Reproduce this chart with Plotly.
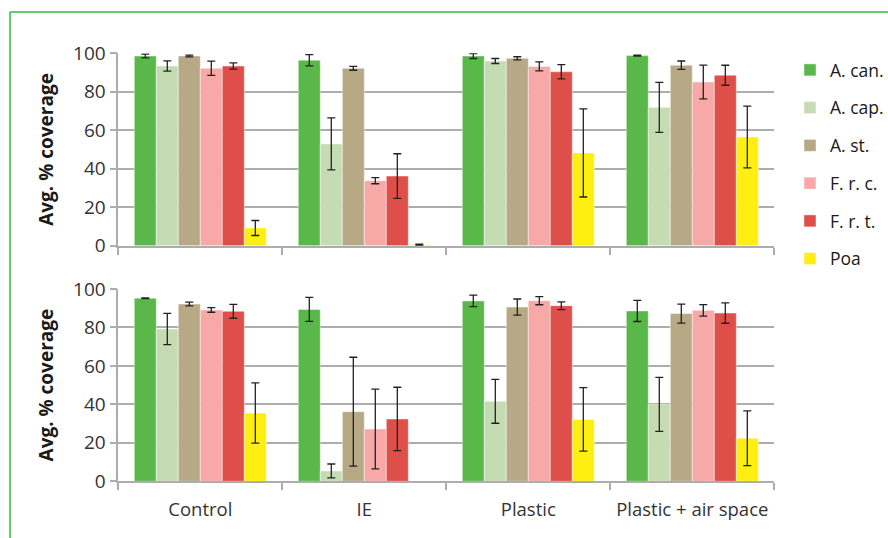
import plotly.graph_objects as go

W, H = 888, 538

treatments = ["Control", "IE", "Plastic", "Plastic + air space"]
species = ["A. can.", "A. cap.", "A. st.", "F. r. c.", "F. r. t.", "Poa"]
colors = ["#5AB84B", "#C5DCB3", "#B7A886", "#F6A9A6", "#DE4F4A", "#FFEE11"]

# Upper panel: mean cover and error per species (order of treatments)
top_can = [98.6, 96.4, 98.6, 98.8]
top_cap = [93.4, 52.9, 96.0, 71.9]
top_st = [98.6, 92.2, 97.4, 93.8]
top_frc = [92.2, 33.8, 93.2, 85.1]
top_frt = [93.4, 36.2, 90.4, 88.6]
top_poa = [9.2, 0.5, 48.2, 56.5]

top_can_err = [1.0, 2.9, 1.3, 0.3]
top_cap_err = [2.7, 13.5, 1.3, 13.0]
top_st_err = [0.5, 1.0, 0.8, 2.2]
top_frc_err = [3.7, 1.6, 2.3, 8.8]
top_frt_err = [1.6, 11.6, 3.7, 5.2]
top_poa_err = [3.9, 0.3, 22.9, 16.0]

# Lower panel (Poa absent under IE)
bot_can = [95.2, 89.4, 93.8, 88.6]
bot_cap = [79.2, 5.4, 41.6, 40.0]
bot_st = [92.2, 36.2, 90.6, 87.2]
bot_frc = [89.1, 27.2, 93.9, 88.9]
bot_frt = [88.4, 32.4, 91.3, 87.5]
bot_poa = [35.5, None, 32.2, 22.4]

bot_can_err = [0.2, 6.2, 3.0, 5.5]
bot_cap_err = [8.1, 3.6, 11.4, 14.0]
bot_st_err = [1.0, 28.3, 4.2, 4.9]
bot_frc_err = [1.2, 20.7, 2.1, 3.0]
bot_frt_err = [3.6, 16.5, 2.0, 5.3]
bot_poa_err = [15.7, None, 16.5, 14.2]

y_ticks = [0, 20, 40, 60, 80, 100]

top_vals = [top_can, top_cap, top_st, top_frc, top_frt, top_poa]
top_errs = [top_can_err, top_cap_err, top_st_err, top_frc_err, top_frt_err, top_poa_err]
bot_vals = [bot_can, bot_cap, bot_st, bot_frc, bot_frt, bot_poa]
bot_errs = [bot_can_err, bot_cap_err, bot_st_err, bot_frc_err, bot_frt_err, bot_poa_err]

FONT = "Open Sans"
GRID = "#ADADAD"
TXT = "#333333"

fig = go.Figure()


def err_bar(vals):
    return dict(type="data", array=vals, visible=True, color="#222222",
                thickness=1.3, width=4)


def bar_style(i):
    return dict(color=colors[i], line=dict(color="rgba(255,255,255,0.45)", width=1))


for i, name in enumerate(species):
    fig.add_trace(go.Bar(
        x=treatments, y=top_vals[i], name=name, legendgroup=name,
        marker=bar_style(i), error_y=err_bar(top_errs[i]),
        xaxis="x", yaxis="y", showlegend=True,
    ))
for i, name in enumerate(species):
    fig.add_trace(go.Bar(
        x=treatments, y=bot_vals[i], name=name, legendgroup=name,
        marker=bar_style(i), error_y=err_bar(bot_errs[i]),
        xaxis="x2", yaxis="y2", showlegend=False,
    ))


def px_x(p):
    return p / W


def px_y(p):
    return 1 - p / H


x_dom = [px_x(118.3), px_x(774.3)]

xcommon = dict(
    type="category", categoryorder="array", categoryarray=treatments,
    domain=x_dom, showline=True, linecolor=GRID, linewidth=1.6,
    ticks="outside", tickson="boundaries", ticklen=7, tickcolor=GRID,
    tickwidth=1.6, showgrid=False, zeroline=False, fixedrange=True,
    automargin=False,
)
ycommon = dict(
    range=[0, 100], tickvals=y_ticks, showgrid=True, gridcolor=GRID,
    gridwidth=1.6, showline=True, linecolor=GRID, linewidth=1.6,
    ticks="outside", ticklen=7, tickcolor=GRID, tickwidth=1.6,
    zeroline=False, tickfont=dict(family=FONT, size=19, color=TXT),
    title=dict(text="<b>Avg. % coverage</b>", standoff=14,
               font=dict(family=FONT, size=19, color="#1A1A1A")),
    fixedrange=True, automargin=False,
)

fig.update_layout(
    width=W, height=H,
    margin=dict(l=0, r=0, t=0, b=0, autoexpand=False),
    paper_bgcolor="white", plot_bgcolor="white",
    barmode="group", bargap=0.195, bargroupgap=0,
    font=dict(family=FONT, size=18, color=TXT),
    xaxis=dict(**xcommon, anchor="y", showticklabels=False),
    xaxis2=dict(**xcommon, anchor="y2", showticklabels=True,
                tickfont=dict(family=FONT, size=18.5, color=TXT),
                ticklabelstandoff=11),
    yaxis=dict(**ycommon, domain=[px_y(245.7), px_y(53.3)], anchor="x"),
    yaxis2=dict(**ycommon, domain=[px_y(481.3), px_y(289)], anchor="x2"),
    legend=dict(
        x=px_x(790), y=px_y(52), xanchor="left", yanchor="top",
        traceorder="grouped", tracegroupgap=12,
        font=dict(family=FONT, size=17.5, color="#1A1A1A"),
        bgcolor="rgba(0,0,0,0)", itemwidth=30,
    ),
    showlegend=True,
    shapes=[
        # green frame around the chart area
        dict(type="line", xref="paper", yref="paper",
             x0=px_x(10), x1=1.05, y0=px_y(12), y1=px_y(12),
             line=dict(color="#33BB44", width=1.5)),
        dict(type="line", xref="paper", yref="paper",
             x0=px_x(10), x1=px_x(10), y0=px_y(12), y1=-0.05,
             line=dict(color="#33BB44", width=1.5)),
    ],
)

fig.write_html("out.html")
